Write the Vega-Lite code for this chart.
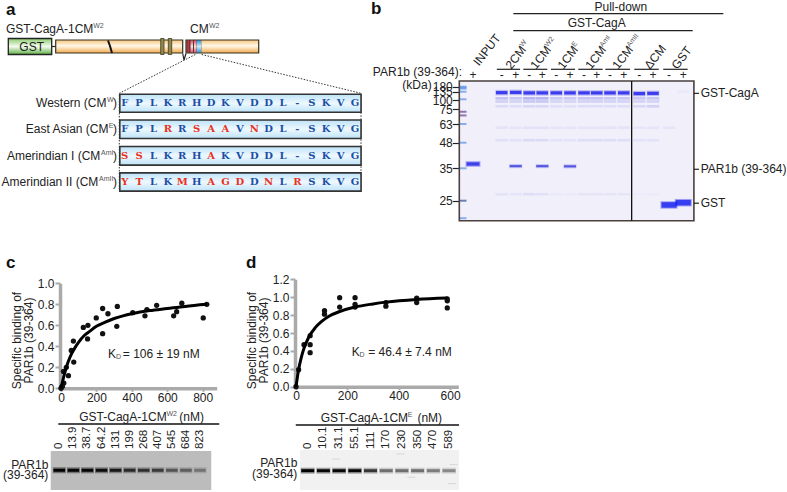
{
"$schema":"https://vega.github.io/schema/vega-lite/v6.json",
"width":787,"height":492,"padding":0,"autosize":"none","background":"white",
"config":{"font":"Liberation Sans","view":{"stroke":null},"text":{"fontSize":12,"color":"#222222"},"axis":{"labelFont":"Liberation Sans","titleFont":"Liberation Sans","labelColor":"#222222","grid":false}},
"datasets":{
"parts":[{"part":"gst","aa":0,"aaEnd":43.4,"lvl":-8,"lvlEnd":8},{"part":"orange","aa":47.4,"aaEnd":174.4,"lvl":-6.5,"lvlEnd":6.5},{"part":"orange","aa":177.7,"aaEnd":250.4,"lvl":-6.5,"lvlEnd":6.5},{"part":"stripe","aa":152.4,"aaEnd":155.7,"lvl":-8,"lvlEnd":8},{"part":"stripe","aa":160,"aaEnd":163.4,"lvl":-8,"lvlEnd":8},{"part":"cmdark","aa":178,"aaEnd":193,"lvl":-6.5,"lvlEnd":6.5},{"part":"red","aa":179,"aaEnd":181,"lvl":-6,"lvlEnd":6},{"part":"pink","aa":182.2,"aaEnd":184.7,"lvl":-6,"lvlEnd":6},{"part":"pink","aa":185.7,"aaEnd":188.2,"lvl":-6,"lvlEnd":6},{"part":"blue","aa":188.4,"aaEnd":192.7,"lvl":-6,"lvlEnd":6}],
"paths":[{"g":"link","s":1,"aa":43.4,"lvl":0},{"g":"link","s":2,"aa":47.4,"lvl":0},{"g":"break","s":1,"aa":99.7,"lvl":6},{"g":"break","s":2,"aa":101.7,"lvl":0.5},{"g":"break","s":3,"aa":103.7,"lvl":-6.5},{"g":"gap","s":1,"aa":174.4,"lvl":-7},{"g":"gap","s":2,"aa":175.7,"lvl":-13.5},{"g":"gap","s":3,"aa":177.7,"lvl":-7}],
"zoomLines":[{"g":"L","s":1,"aa":187,"lvl":-8},{"g":"L","s":2,"aa":111,"lvl":-46.8},{"g":"L","s":3,"aa":111,"lvl":-144.5},{"g":"R","s":1,"aa":193.4,"lvl":-8},{"g":"R","s":2,"aa":352.7,"lvl":-46.8},{"g":"R","s":3,"aa":352.7,"lvl":-144.5}],
"boxes":[{"row":1,"a":0.66,"b":17.42,"top":0.65,"bot":1.35},{"row":2,"a":0.66,"b":17.42,"top":1.65,"bot":2.35},{"row":3,"a":0.66,"b":17.42,"top":2.65,"bot":3.35},{"row":4,"a":0.66,"b":17.42,"top":3.65,"bot":4.35}],
"rowLabels":[{"row":1,"main":"Western (CM","mainEnd":-0.264,"sup":"W","supEnd":0.222,"closeEnd":0.465,"close":")"},{"row":2,"main":"East Asian (CM","mainEnd":-0.125,"sup":"E","supEnd":0.222,"closeEnd":0.465,"close":")"},{"row":3,"main":"Amerindian I (CM","mainEnd":-0.695,"sup":"AmI","supEnd":0.222,"closeEnd":0.465,"close":")"},{"row":4,"main":"Amerindian II (CM","mainEnd":-0.834,"sup":"AmII","supEnd":0.222,"closeEnd":0.465,"close":")"}],
"residues":[
{"row":1,"pos":1,"aa":"F","k":"same"},{"row":1,"pos":2,"aa":"P","k":"same"},{"row":1,"pos":3,"aa":"L","k":"same"},{"row":1,"pos":4,"aa":"K","k":"same"},{"row":1,"pos":5,"aa":"R","k":"same"},{"row":1,"pos":6,"aa":"H","k":"same"},{"row":1,"pos":7,"aa":"D","k":"same"},{"row":1,"pos":8,"aa":"K","k":"same"},{"row":1,"pos":9,"aa":"V","k":"same"},{"row":1,"pos":10,"aa":"D","k":"same"},{"row":1,"pos":11,"aa":"D","k":"same"},{"row":1,"pos":12,"aa":"L","k":"same"},{"row":1,"pos":13,"aa":"-","k":"same"},{"row":1,"pos":14,"aa":"S","k":"same"},{"row":1,"pos":15,"aa":"K","k":"same"},{"row":1,"pos":16,"aa":"V","k":"same"},{"row":1,"pos":17,"aa":"G","k":"same"},
{"row":2,"pos":1,"aa":"F","k":"same"},{"row":2,"pos":2,"aa":"P","k":"same"},{"row":2,"pos":3,"aa":"L","k":"same"},{"row":2,"pos":4,"aa":"R","k":"sub"},{"row":2,"pos":5,"aa":"R","k":"same"},{"row":2,"pos":6,"aa":"S","k":"sub"},{"row":2,"pos":7,"aa":"A","k":"sub"},{"row":2,"pos":8,"aa":"A","k":"sub"},{"row":2,"pos":9,"aa":"V","k":"same"},{"row":2,"pos":10,"aa":"N","k":"sub"},{"row":2,"pos":11,"aa":"D","k":"same"},{"row":2,"pos":12,"aa":"L","k":"same"},{"row":2,"pos":13,"aa":"-","k":"same"},{"row":2,"pos":14,"aa":"S","k":"same"},{"row":2,"pos":15,"aa":"K","k":"same"},{"row":2,"pos":16,"aa":"V","k":"same"},{"row":2,"pos":17,"aa":"G","k":"same"},
{"row":3,"pos":1,"aa":"S","k":"sub"},{"row":3,"pos":2,"aa":"S","k":"sub"},{"row":3,"pos":3,"aa":"L","k":"same"},{"row":3,"pos":4,"aa":"K","k":"same"},{"row":3,"pos":5,"aa":"R","k":"same"},{"row":3,"pos":6,"aa":"H","k":"same"},{"row":3,"pos":7,"aa":"A","k":"sub"},{"row":3,"pos":8,"aa":"K","k":"same"},{"row":3,"pos":9,"aa":"V","k":"same"},{"row":3,"pos":10,"aa":"D","k":"same"},{"row":3,"pos":11,"aa":"D","k":"same"},{"row":3,"pos":12,"aa":"L","k":"same"},{"row":3,"pos":13,"aa":"-","k":"same"},{"row":3,"pos":14,"aa":"S","k":"same"},{"row":3,"pos":15,"aa":"K","k":"same"},{"row":3,"pos":16,"aa":"V","k":"same"},{"row":3,"pos":17,"aa":"G","k":"same"},
{"row":4,"pos":1,"aa":"Y","k":"sub"},{"row":4,"pos":2,"aa":"T","k":"sub"},{"row":4,"pos":3,"aa":"L","k":"same"},{"row":4,"pos":4,"aa":"K","k":"same"},{"row":4,"pos":5,"aa":"M","k":"sub"},{"row":4,"pos":6,"aa":"H","k":"same"},{"row":4,"pos":7,"aa":"A","k":"sub"},{"row":4,"pos":8,"aa":"G","k":"sub"},{"row":4,"pos":9,"aa":"D","k":"sub"},{"row":4,"pos":10,"aa":"D","k":"same"},{"row":4,"pos":11,"aa":"N","k":"sub"},{"row":4,"pos":12,"aa":"L","k":"same"},{"row":4,"pos":13,"aa":"R","k":"sub"},{"row":4,"pos":14,"aa":"S","k":"same"},{"row":4,"pos":15,"aa":"K","k":"same"},{"row":4,"pos":16,"aa":"V","k":"same"},{"row":4,"pos":17,"aa":"G","k":"same"}],
"faint":[
{"lane":2,"kDa":107,"i":0.4},{"lane":2,"kDa":96,"i":0.28},{"lane":2,"kDa":83,"i":0.16},{"lane":2,"kDa":60,"i":0.1},{"lane":2,"kDa":50,"i":0.13},{"lane":2,"kDa":27,"i":0.1},
{"lane":3,"kDa":107,"i":0.35},{"lane":3,"kDa":96,"i":0.25},{"lane":3,"kDa":83,"i":0.14},{"lane":3,"kDa":60,"i":0.08},{"lane":3,"kDa":50,"i":0.11},{"lane":3,"kDa":27,"i":0.08},
{"lane":4,"kDa":107,"i":0.5},{"lane":4,"kDa":96,"i":0.35},{"lane":4,"kDa":83,"i":0.2},{"lane":4,"kDa":60,"i":0.12},{"lane":4,"kDa":50,"i":0.16},{"lane":4,"kDa":27,"i":0.14},
{"lane":5,"kDa":107,"i":0.5},{"lane":5,"kDa":96,"i":0.35},{"lane":5,"kDa":83,"i":0.2},{"lane":5,"kDa":60,"i":0.12},{"lane":5,"kDa":50,"i":0.16},{"lane":5,"kDa":27,"i":0.12},
{"lane":6,"kDa":107,"i":0.33},{"lane":6,"kDa":96,"i":0.23},{"lane":6,"kDa":83,"i":0.13},{"lane":6,"kDa":60,"i":0.08},{"lane":6,"kDa":50,"i":0.1},{"lane":6,"kDa":27,"i":0.05},
{"lane":7,"kDa":107,"i":0.33},{"lane":7,"kDa":96,"i":0.23},{"lane":7,"kDa":83,"i":0.13},{"lane":7,"kDa":60,"i":0.08},{"lane":7,"kDa":50,"i":0.1},{"lane":7,"kDa":27,"i":0.05},
{"lane":8,"kDa":107,"i":0.38},{"lane":8,"kDa":96,"i":0.26},{"lane":8,"kDa":83,"i":0.15},{"lane":8,"kDa":60,"i":0.09},{"lane":8,"kDa":50,"i":0.14},{"lane":8,"kDa":27,"i":0.09},
{"lane":9,"kDa":107,"i":0.38},{"lane":9,"kDa":96,"i":0.26},{"lane":9,"kDa":83,"i":0.15},{"lane":9,"kDa":60,"i":0.09},{"lane":9,"kDa":50,"i":0.14},{"lane":9,"kDa":27,"i":0.09},
{"lane":10,"kDa":107,"i":0.35},{"lane":10,"kDa":96,"i":0.25},{"lane":10,"kDa":83,"i":0.14},{"lane":10,"kDa":60,"i":0.1},{"lane":10,"kDa":50,"i":0.14},{"lane":10,"kDa":27,"i":0.08},
{"lane":11,"kDa":107,"i":0.35},{"lane":11,"kDa":96,"i":0.25},{"lane":11,"kDa":83,"i":0.14},{"lane":11,"kDa":60,"i":0.1},{"lane":11,"kDa":50,"i":0.14},{"lane":11,"kDa":27,"i":0.08},
{"lane":12,"kDa":107,"i":0.35},{"lane":12,"kDa":96,"i":0.25},{"lane":12,"kDa":83,"i":0.2},{"lane":12,"kDa":60,"i":0.08},{"lane":12,"kDa":50,"i":0.11},{"lane":12,"kDa":27,"i":0.03},
{"lane":13,"kDa":107,"i":0.35},{"lane":13,"kDa":96,"i":0.25},{"lane":13,"kDa":83,"i":0.25},{"lane":13,"kDa":60,"i":0.08},{"lane":13,"kDa":50,"i":0.11},{"lane":13,"kDa":27,"i":0.03},
{"lane":14,"kDa":60,"i":0.08},{"lane":15,"kDa":135,"i":0.05}],
"strong":[
{"lane":2,"kDa":131},{"lane":3,"kDa":132},{"lane":4,"kDa":130},{"lane":5,"kDa":130},{"lane":6,"kDa":130},{"lane":7,"kDa":130},{"lane":8,"kDa":130},{"lane":9,"kDa":130},{"lane":10,"kDa":130},{"lane":11,"kDa":130},{"lane":12,"kDa":127},{"lane":13,"kDa":128}],
"pulled":[{"lane":3,"kDa":36.1},{"lane":5,"kDa":36.1},{"lane":7,"kDa":36}],
"marker":[{"lane":0,"kDa":180,"k":"a"},{"lane":0,"kDa":172,"k":"a"},{"lane":0,"kDa":163,"k":"a"},{"lane":0,"kDa":135,"k":"a"},{"lane":0,"kDa":103,"k":"a"},{"lane":0,"kDa":73,"k":"b"},{"lane":0,"kDa":70,"k":"b"},{"lane":0,"kDa":63,"k":"a"},{"lane":0,"kDa":48,"k":"a"},{"lane":0,"kDa":35,"k":"a"},{"lane":0,"kDa":25,"k":"c"},{"lane":0,"kDa":18,"k":"a"}],
"gelFrame":[{"lane":-0.37,"lane2":15.61,"kDa":200,"kDa2":17}],
"gelDivide":[{"lane":11.51,"kDa":200,"kDa2":17}],
"gelSide":[{"lane":15.61,"lane2":15.9,"kDa":128},{"lane":15.61,"lane2":15.9,"kDa":34.7},{"lane":15.61,"lane2":15.9,"kDa":24}],
"gelText":[{"lane":16,"kDa":128,"t":"GST-CagA"},{"lane":16,"kDa":34.7,"t":"PAR1b (39-364)"},{"lane":16,"kDa":24,"t":"GST"}],
"headRules":[{"lane":2.83,"lane2":17.3,"tier":2},{"lane":2.83,"lane2":15.54,"tier":4},{"lane":1.83,"lane2":3.32,"tier":7},{"lane":3.56,"lane2":5.36,"tier":7},{"lane":5.62,"lane2":7.36,"tier":7},{"lane":7.59,"lane2":9.45,"tier":7},{"lane":9.65,"lane2":11.4,"tier":7},{"lane":11.68,"lane2":13.36,"tier":7},{"lane":13.64,"lane2":15.25,"tier":7}],
"headCentre":[{"lane":10.79,"tier":1,"t":"Pull-down"},{"lane":9,"tier":3,"t":"GST-CagA"},
{"lane":1,"tier":8,"t":"+"},{"lane":2,"tier":8,"t":"-"},{"lane":3,"tier":8,"t":"+"},{"lane":4,"tier":8,"t":"-"},{"lane":5,"tier":8,"t":"+"},{"lane":6,"tier":8,"t":"-"},{"lane":7,"tier":8,"t":"+"},{"lane":8,"tier":8,"t":"-"},{"lane":9,"tier":8,"t":"+"},{"lane":10,"tier":8,"t":"-"},{"lane":11,"tier":8,"t":"+"},{"lane":12,"tier":8,"t":"-"},{"lane":13,"tier":8,"t":"+"},{"lane":14,"tier":8,"t":"-"},{"lane":15,"tier":8,"t":"+"}],
"headNames":[{"lane":1.1,"tier":5.84,"t":"INPUT"},{"lane":2.45,"tier":6,"t":"2CM"},{"lane":4.28,"tier":6,"t":"1CM"},{"lane":6.27,"tier":6,"t":"1CM"},{"lane":8.31,"tier":6,"t":"1CM"},{"lane":10.36,"tier":6,"t":"1CM"},{"lane":12.56,"tier":6,"t":"ΔCM"},{"lane":14.35,"tier":6,"t":"GST"}],
"headSups":[{"lane":3.41,"tier":5,"t":"W"},{"lane":5.28,"tier":5,"t":"W2"},{"lane":7.23,"tier":5,"t":"E"},{"lane":9.34,"tier":5,"t":"AmI"},{"lane":11.29,"tier":5,"t":"AmII"}],
"cPoints":[{"nM":0,"v":0},{"nM":3,"v":0.01},{"nM":8,"v":0.02},{"nM":13.9,"v":0.16},{"nM":16,"v":0.05},{"nM":30,"v":0.2},{"nM":42,"v":0.12},{"nM":58,"v":0.36},{"nM":70,"v":0.45},{"nM":72,"v":0.25},{"nM":126,"v":0.58},{"nM":152,"v":0.6},{"nM":150,"v":0.47},{"nM":199,"v":0.67},{"nM":235,"v":0.76},{"nM":235,"v":0.52},{"nM":265,"v":0.71},{"nM":318,"v":0.78},{"nM":315,"v":0.59},{"nM":405,"v":0.72},{"nM":474,"v":0.69},{"nM":485,"v":0.75},{"nM":540,"v":0.79},{"nM":636,"v":0.69},{"nM":653,"v":0.73},{"nM":682,"v":0.81},{"nM":803,"v":0.67},{"nM":823,"v":0.8}],
"cFit":[{"nM":0,"v":0},{"nM":20,"v":0.14},{"nM":40,"v":0.25},{"nM":60,"v":0.33},{"nM":80,"v":0.39},{"nM":100,"v":0.44},{"nM":130,"v":0.5},{"nM":160,"v":0.54},{"nM":200,"v":0.59},{"nM":250,"v":0.63},{"nM":300,"v":0.665},{"nM":350,"v":0.69},{"nM":400,"v":0.71},{"nM":500,"v":0.74},{"nM":600,"v":0.76},{"nM":700,"v":0.78},{"nM":823,"v":0.8}],
"dPoints":[{"nM":0,"v":0},{"nM":10.1,"v":0.19},{"nM":31.1,"v":0.47},{"nM":55.1,"v":0.47},{"nM":55.1,"v":0.38},{"nM":55.1,"v":0.57},{"nM":111,"v":0.85},{"nM":111,"v":0.81},{"nM":170,"v":0.995},{"nM":170,"v":0.89},{"nM":230,"v":0.995},{"nM":230,"v":0.92},{"nM":230,"v":0.89},{"nM":350,"v":0.9},{"nM":350,"v":0.94},{"nM":470,"v":0.99},{"nM":470,"v":0.94},{"nM":589,"v":0.96},{"nM":589,"v":0.88},{"nM":589,"v":0.98}],
"dFit":[{"nM":0,"v":0},{"nM":10,"v":0.19},{"nM":20,"v":0.32},{"nM":30,"v":0.42},{"nM":50,"v":0.555},{"nM":75,"v":0.66},{"nM":100,"v":0.73},{"nM":130,"v":0.79},{"nM":170,"v":0.84},{"nM":230,"v":0.89},{"nM":300,"v":0.925},{"nM":350,"v":0.945},{"nM":470,"v":0.975},{"nM":589,"v":0.99}],
"cBlot":[{"lane":0,"conc":"0","i":1,"bandTier":6,"nameTier":3},{"lane":1,"conc":"13.9","i":0.95,"bandTier":6,"nameTier":3},{"lane":2,"conc":"38.7","i":0.95,"bandTier":6,"nameTier":3},{"lane":3,"conc":"64.2","i":0.9,"bandTier":6,"nameTier":3},{"lane":4,"conc":"131","i":0.8,"bandTier":6,"nameTier":3},{"lane":5,"conc":"199","i":0.7,"bandTier":6,"nameTier":3},{"lane":6,"conc":"268","i":0.65,"bandTier":6,"nameTier":3},{"lane":7,"conc":"407","i":0.6,"bandTier":6,"nameTier":3},{"lane":8,"conc":"545","i":0.45,"bandTier":6,"nameTier":3},{"lane":9,"conc":"684","i":0.4,"bandTier":6,"nameTier":3},{"lane":10,"conc":"823","i":0.3,"bandTier":6,"nameTier":3}],
"dBlot":[{"lane":0,"conc":"0","i":1,"bandTier":6,"nameTier":3},{"lane":1,"conc":"10.1","i":0.95,"bandTier":6,"nameTier":3},{"lane":2,"conc":"31.1","i":0.95,"bandTier":6,"nameTier":3},{"lane":3,"conc":"55.1","i":0.95,"bandTier":6,"nameTier":3},{"lane":4,"conc":"111","i":0.7,"bandTier":6,"nameTier":3},{"lane":5,"conc":"170","i":0.45,"bandTier":6,"nameTier":3},{"lane":6,"conc":"230","i":0.45,"bandTier":6,"nameTier":3},{"lane":7,"conc":"350","i":0.45,"bandTier":6,"nameTier":3},{"lane":8,"conc":"470","i":0.4,"bandTier":6,"nameTier":3},{"lane":9,"conc":"589","i":0.35,"bandTier":6,"nameTier":3}]
},
"resolve":{"scale":{"x":"independent","y":"independent","color":"independent","opacity":"independent"},"axis":{"x":"independent","y":"independent"}},
"layer":[
{"encoding":{"x":{"field":"aa","type":"quantitative","scale":{"domain":[0,250],"range":[8.3,258.3],"zero":false,"nice":false},"axis":null},"y":{"field":"lvl","type":"quantitative","scale":{"domain":[-10,10],"range":[56.5,36.5],"zero":false,"nice":false},"axis":null}},
"layer":[
{"data":{"name":"zoomLines"},"mark":{"type":"line","color":"#333333","strokeWidth":1,"strokeDash":[1.5,1.5]},"encoding":{"detail":{"field":"g"},"order":{"field":"s","type":"quantitative"}}},
{"data":{"name":"paths"},"mark":{"type":"line","color":"#222222","strokeWidth":1.2},"transform":[{"filter":"datum.g!='break'"}],"encoding":{"detail":{"field":"g"},"order":{"field":"s","type":"quantitative"}}},
{"data":{"name":"parts"},"transform":[{"filter":"datum.part=='gst'"}],"mark":{"type":"rect","stroke":"#222222","strokeWidth":1.3,"fill":{"gradient":"linear","x1":0,"y1":0,"x2":0,"y2":1,"stops":[{"offset":0,"color":"#8ccb6c"},{"offset":0.5,"color":"#f4fbee"},{"offset":1,"color":"#5fb044"}]}},"encoding":{"x2":{"field":"aaEnd"},"y2":{"field":"lvlEnd"}}},
{"data":{"name":"parts"},"transform":[{"filter":"datum.part=='orange'"}],"mark":{"type":"rect","stroke":"#333322","strokeWidth":1.2,"fill":{"gradient":"linear","x1":0,"y1":0,"x2":0,"y2":1,"stops":[{"offset":0,"color":"#f8c47c"},{"offset":0.45,"color":"#fff8e8"},{"offset":1,"color":"#f2a94e"}]}},"encoding":{"x2":{"field":"aaEnd"},"y2":{"field":"lvlEnd"}}},
{"data":{"name":"parts"},"transform":[{"filter":"datum.part=='stripe'"}],"mark":{"type":"rect","fill":"#93884a","stroke":"#3a3a22","strokeWidth":0.8},"encoding":{"x2":{"field":"aaEnd"},"y2":{"field":"lvlEnd"}}},
{"data":{"name":"parts"},"transform":[{"filter":"datum.part=='cmdark'"}],"mark":{"type":"rect","fill":"#4a3a3a"},"encoding":{"x2":{"field":"aaEnd"},"y2":{"field":"lvlEnd"}}},
{"data":{"name":"parts"},"transform":[{"filter":"datum.part=='red'"}],"mark":{"type":"rect","fill":"#c8323c"},"encoding":{"x2":{"field":"aaEnd"},"y2":{"field":"lvlEnd"}}},
{"data":{"name":"parts"},"transform":[{"filter":"datum.part=='pink'"}],"mark":{"type":"rect","fill":{"gradient":"linear","x1":0,"y1":0,"x2":0,"y2":1,"stops":[{"offset":0,"color":"#e8505c"},{"offset":0.5,"color":"#ffe0e0"},{"offset":1,"color":"#e8505c"}]}},"encoding":{"x2":{"field":"aaEnd"},"y2":{"field":"lvlEnd"}}},
{"data":{"name":"parts"},"transform":[{"filter":"datum.part=='blue'"}],"mark":{"type":"rect","fill":{"gradient":"linear","x1":0,"y1":0,"x2":0,"y2":1,"stops":[{"offset":0,"color":"#2a9ae0"},{"offset":0.5,"color":"#c8ecfb"},{"offset":1,"color":"#2a9ae0"}]}},"encoding":{"x2":{"field":"aaEnd"},"y2":{"field":"lvlEnd"}}},
{"data":{"name":"paths"},"mark":{"type":"line","color":"#111111","strokeWidth":2},"transform":[{"filter":"datum.g=='break'"}],"encoding":{"order":{"field":"s","type":"quantitative"}}},
{"data":{"values":[{"aa":23.4,"lvl":0,"t":"GST"}]},"mark":{"type":"text","align":"center","baseline":"middle"},"encoding":{"text":{"field":"t"}}},
{"data":{"values":[{"aa":-2.3,"lvl":17.5,"t":"GST-CagA-1CM"},{"aa":181.7,"lvl":17.5,"t":"CM"}]},"mark":{"type":"text","align":"left","baseline":"middle"},"encoding":{"text":{"field":"t"}}},
{"data":{"values":[{"aa":84.9,"lvl":17.5,"t":"W2"},{"aa":200.6,"lvl":17.5,"t":"W2"}]},"mark":{"type":"text","align":"left","baseline":"middle","fontSize":7,"dy":-3,"color":"#555555"},"encoding":{"text":{"field":"t"}}},
{"data":{"values":[{"aa":-2.3,"lvl":36.5,"t":"a"}]},"mark":{"type":"text","align":"left","baseline":"middle","fontSize":17,"fontWeight":"bold","color":"#111111"},"encoding":{"text":{"field":"t"}}}
]},
{"encoding":{"x":{"field":"a","type":"quantitative","scale":{"domain":[1,17],"range":[124.7,355],"zero":false,"nice":false},"axis":null},"y":{"field":"row","type":"quantitative","scale":{"domain":[1,2,3,4],"range":[103.3,129,156,182],"zero":false,"nice":false},"axis":null}},
"layer":[
{"data":{"name":"boxes"},"mark":{"type":"rect","stroke":"#333333","strokeWidth":1.6,"fill":{"gradient":"linear","x1":0,"y1":0,"x2":0,"y2":1,"stops":[{"offset":0,"color":"#bde3f8"},{"offset":0.5,"color":"#eef8fe"},{"offset":1,"color":"#bde3f8"}]}},"encoding":{"x2":{"field":"b"},"y":{"field":"top","type":"quantitative"},"y2":{"field":"bot"}}},
{"data":{"name":"residues"},"mark":{"type":"text","font":"DejaVu Serif","fontWeight":"bold","fontSize":10,"align":"center","baseline":"middle"},"encoding":{"x":{"field":"pos","type":"quantitative"},"text":{"field":"aa"},"color":{"field":"k","type":"nominal","scale":{"domain":["same","sub"],"range":["#1b4fa5","#e8321e"]},"legend":null}}},
{"data":{"name":"rowLabels"},"mark":{"type":"text","align":"right","baseline":"middle"},"encoding":{"x":{"field":"mainEnd","type":"quantitative"},"text":{"field":"main"}}},
{"data":{"name":"rowLabels"},"mark":{"type":"text","align":"right","baseline":"middle","fontSize":7,"dy":-3,"color":"#555555"},"encoding":{"x":{"field":"supEnd","type":"quantitative"},"text":{"field":"sup"}}},
{"data":{"name":"rowLabels"},"mark":{"type":"text","align":"right","baseline":"middle"},"encoding":{"x":{"field":"closeEnd","type":"quantitative"},"text":{"field":"close"}}}
]},
{"encoding":{"x":{"field":"lane","type":"quantitative","scale":{"domain":[0,1,2,3,4,5,6,7,8,9,10,11,12,13,14,15,16],"range":[463,473,501.7,515.7,529.3,542.3,556.3,570,584,596.7,610,623.7,639.3,653,669,683.3,700.7],"zero":false,"nice":false},"axis":null},"y":{"field":"kDa","type":"quantitative","scale":{"domain":[200,180,135,100,75,63,48,35,25,17],"range":[81,86.7,91.7,100,109.3,124,142.7,168.3,200.7,220.7],"zero":false,"nice":false},"axis":{"orient":"left","offset":-459.3,"values":[180,135,100,75,63,48,35,25],"domain":false,"tickSize":7,"tickColor":"#222222","tickWidth":1.2,"labelFontSize":12,"labelPadding":0,"labelOverlap":false,"labelBound":false,"title":null}}},
"layer":[
{"data":{"name":"gelFrame"},"mark":{"type":"rect","fill":"#f0effa"},"encoding":{"x2":{"field":"lane2"},"y2":{"field":"kDa2"}}},
{"data":{"name":"faint"},"mark":{"type":"tick","orient":"horizontal","size":12.5,"thickness":2.6,"color":"#4a4ae0"},"encoding":{"opacity":{"field":"i","type":"quantitative","scale":{"domain":[0,1],"range":[0,0.7]},"legend":null}}},
{"data":{"name":"marker"},"mark":{"type":"tick","orient":"horizontal","size":7,"thickness":2},"encoding":{"color":{"field":"k","type":"nominal","scale":{"domain":["a","b","c"],"range":["#5b93ea","#6b3f8f","#2c4f9c"]},"legend":null}}},
{"data":{"values":[{"lane":1,"kDa":37.2}]},"mark":{"type":"tick","orient":"horizontal","size":15,"thickness":6,"color":"#3a3ae8","opacity":0.35}},
{"data":{"values":[{"lane":1,"kDa":37.2}]},"mark":{"type":"tick","orient":"horizontal","size":13,"thickness":3.4,"color":"#1010e4"}},
{"data":{"name":"strong"},"mark":{"type":"tick","orient":"horizontal","size":12.5,"thickness":5.5,"color":"#3a3ae8","opacity":0.3}},
{"data":{"name":"strong"},"mark":{"type":"tick","orient":"horizontal","size":11.5,"thickness":3.2,"color":"#0808ec"}},
{"data":{"name":"pulled"},"mark":{"type":"tick","orient":"horizontal","size":13,"thickness":4,"color":"#4a4ae8","opacity":0.3}},
{"data":{"name":"pulled"},"mark":{"type":"tick","orient":"horizontal","size":12,"thickness":2,"color":"#2626dc"}},
{"data":{"values":[{"lane":14,"kDa":23.3},{"lane":15,"kDa":24.2}]},"mark":{"type":"tick","orient":"horizontal","size":17,"thickness":7.5,"color":"#2a30ee","opacity":0.4}},
{"data":{"values":[{"lane":14,"kDa":23.3},{"lane":15,"kDa":24.2}]},"mark":{"type":"tick","orient":"horizontal","size":15,"thickness":5.5,"color":"#0a14f0"}},
{"data":{"name":"gelFrame"},"mark":{"type":"rect","fill":"transparent","stroke":"#4a3f3c","strokeWidth":1.6},"encoding":{"x2":{"field":"lane2"},"y2":{"field":"kDa2"}}},
{"data":{"name":"gelDivide"},"mark":{"type":"rule","color":"#111111","strokeWidth":1.3},"encoding":{"y2":{"field":"kDa2"}}},
{"data":{"name":"gelSide"},"mark":{"type":"rule","color":"#222222","strokeWidth":1.2},"encoding":{"x2":{"field":"lane2"}}},
{"data":{"name":"gelText"},"mark":{"type":"text","align":"left","baseline":"middle"},"encoding":{"text":{"field":"t"}}},
{"data":{"values":[{"lane":-3.13,"kDa":186,"t":"(kDa)"}]},"mark":{"type":"text","align":"right","baseline":"middle"},"encoding":{"text":{"field":"t"}}}
]},
{"encoding":{"x":{"field":"lane","type":"quantitative","scale":{"domain":[0,1,2,3,4,5,6,7,8,9,10,11,12,13,14,15,16],"range":[463,473,501.7,515.7,529.3,542.3,556.3,570,584,596.7,610,623.7,639.3,653,669,683.3,700.7],"zero":false,"nice":false},"axis":null},"y":{"field":"tier","type":"quantitative","scale":{"domain":[1,2,3,4,5,6,7,8],"range":[6.7,13.7,23.3,30.7,46,67.5,69.3,75.3],"zero":false,"nice":false},"axis":null}},
"layer":[
{"data":{"name":"headRules"},"mark":{"type":"rule","color":"#222222","strokeWidth":1.2},"encoding":{"x2":{"field":"lane2"}}},
{"data":{"name":"headCentre"},"mark":{"type":"text","align":"center","baseline":"middle"},"encoding":{"text":{"field":"t"}}},
{"data":{"name":"headNames"},"mark":{"type":"text","align":"left","baseline":"middle","angle":-52},"encoding":{"text":{"field":"t"}}},
{"data":{"name":"headSups"},"mark":{"type":"text","align":"left","baseline":"middle","angle":-52,"fontSize":7,"color":"#555555"},"encoding":{"text":{"field":"t"}}},
{"data":{"values":[{"lane":-0.1,"tier":7.45,"t":"PAR1b (39-364):"}]},"mark":{"type":"text","align":"right","baseline":"middle"},"encoding":{"text":{"field":"t"}}},
{"data":{"values":[{"lane":-9.2,"tier":1.33,"t":"b"}]},"mark":{"type":"text","align":"left","baseline":"middle","fontSize":17,"fontWeight":"bold","color":"#111111"},"encoding":{"text":{"field":"t"}}}
]},
{"encoding":{"x":{"field":"nM","type":"quantitative","scale":{"domain":[0,879],"range":[61,216.7],"zero":false,"nice":false},"axis":{"orient":"bottom","offset":-103.7,"values":[0,200,400,600,800],"domainColor":"#aaaaaa","domainWidth":3.5,"tickColor":"#aaaaaa","tickWidth":2,"tickSize":3,"labelFontSize":12,"labelPadding":1,"labelOverlap":false,"labelBound":false,"labelFlush":false,"title":null}},"y":{"field":"v","type":"quantitative","scale":{"domain":[0,1],"range":[388.3,283.3],"zero":false,"nice":false},"axis":{"orient":"left","offset":-60,"values":[0,0.2,0.4,0.6,0.8,1],"format":".1f","domainColor":"#aaaaaa","domainWidth":3.5,"tickColor":"#aaaaaa","tickWidth":2,"tickSize":5,"labelFontSize":12,"labelPadding":1,"labelOverlap":false,"labelBound":false,"labelFlush":false,"title":["Specific binding of","PAR1b (39-364)"],"titleFontSize":12,"titleFontWeight":"normal","titleColor":"#222222","titleLineHeight":12.5,"titleX":-37,"titleY":340,"titleAngle":-90}}},
"layer":[
{"data":{"name":"cPoints"},"mark":{"type":"circle","size":28,"color":"#111111","opacity":1}},
{"data":{"name":"cFit"},"mark":{"type":"line","color":"#000000","strokeWidth":3,"interpolate":"monotone"}},
{"data":{"values":[{"nM":265,"v":0.327,"t":"K"},{"nM":349,"v":0.327,"t":"= 106 ± 19 nM"}]},"mark":{"type":"text","align":"left","baseline":"middle"},"encoding":{"text":{"field":"t"}}},
{"data":{"values":[{"nM":310,"v":0.327,"t":"D"}]},"mark":{"type":"text","align":"left","baseline":"middle","fontSize":7,"dy":3,"color":"#555555"},"encoding":{"text":{"field":"t"}}},
{"data":{"values":[{"nM":-310,"v":1.19,"t":"c"}]},"mark":{"type":"text","align":"left","baseline":"middle","fontSize":17,"fontWeight":"bold","color":"#111111"},"encoding":{"text":{"field":"t"}}}
]},
{"encoding":{"x":{"field":"nM","type":"quantitative","scale":{"domain":[0,632],"range":[296,458.3],"zero":false,"nice":false},"axis":{"orient":"bottom","offset":-105.3,"values":[0,200,400,600],"domainColor":"#aaaaaa","domainWidth":3.5,"tickColor":"#aaaaaa","tickWidth":2,"tickSize":3,"labelFontSize":12,"labelPadding":1,"labelOverlap":false,"labelBound":false,"labelFlush":false,"title":null}},"y":{"field":"v","type":"quantitative","scale":{"domain":[0,1.2],"range":[386.7,279.3],"zero":false,"nice":false},"axis":{"orient":"left","offset":-295,"values":[0,0.2,0.4,0.6,0.8,1,1.2],"format":".1f","domainColor":"#aaaaaa","domainWidth":3.5,"tickColor":"#aaaaaa","tickWidth":2,"tickSize":5,"labelFontSize":12,"labelPadding":1,"labelOverlap":false,"labelBound":false,"labelFlush":false,"title":["Specific binding of","PAR1b (39-364)"],"titleFontSize":12,"titleFontWeight":"normal","titleColor":"#222222","titleLineHeight":12.5,"titleX":-37,"titleY":340,"titleAngle":-90}}},
"layer":[
{"data":{"name":"dPoints"},"mark":{"type":"circle","size":28,"color":"#111111","opacity":1}},
{"data":{"name":"dFit"},"mark":{"type":"line","color":"#000000","strokeWidth":3,"interpolate":"monotone"}},
{"data":{"values":[{"nM":217,"v":0.388,"t":"K"},{"nM":281,"v":0.388,"t":"= 46.4 ± 7.4 nM"}]},"mark":{"type":"text","align":"left","baseline":"middle"},"encoding":{"text":{"field":"t"}}},
{"data":{"values":[{"nM":247,"v":0.388,"t":"D"}]},"mark":{"type":"text","align":"left","baseline":"middle","fontSize":7,"dy":3,"color":"#555555"},"encoding":{"text":{"field":"t"}}},
{"data":{"values":[{"nM":-195,"v":1.382,"t":"d"}]},"mark":{"type":"text","align":"left","baseline":"middle","fontSize":17,"fontWeight":"bold","color":"#111111"},"encoding":{"text":{"field":"t"}}}
]},
{"resolve":{"scale":{"opacity":"independent"}},"encoding":{"x":{"field":"lane","type":"quantitative","scale":{"domain":[0,10],"range":[59.3,200],"zero":false,"nice":false},"axis":null},"y":{"field":"tier","type":"quantitative","scale":{"domain":[1,2,3,4,5,6,7,8],"range":[417,424,449,451,465,470.3,475,490],"zero":false,"nice":false},"axis":null}},
"layer":[
{"data":{"values":[{"lane":-0.61,"lane2":10.8,"tier":4,"tier2":8}]},"mark":{"type":"rect","fill":"#bcbcbc"},"encoding":{"x2":{"field":"lane2"},"y2":{"field":"tier2"}}},
{"data":{"name":"cBlot"},"mark":{"type":"tick","orient":"horizontal","size":13,"thickness":6,"color":"#000000"},"encoding":{"y":{"field":"bandTier","type":"quantitative"},"opacity":{"field":"i","type":"quantitative","scale":{"domain":[0,1],"range":[0,0.4]},"legend":null}}},
{"data":{"name":"cBlot"},"mark":{"type":"tick","orient":"horizontal","size":11.5,"thickness":3,"color":"#000000"},"encoding":{"y":{"field":"bandTier","type":"quantitative"},"opacity":{"field":"i","type":"quantitative","scale":{"domain":[0,1],"range":[0,1]},"legend":null}}},
{"data":{"values":[{"lane":-0.07,"lane2":11.37,"tier":2}]},"mark":{"type":"rule","color":"#111111","strokeWidth":1.3},"encoding":{"x2":{"field":"lane2"}}},
{"data":{"name":"cBlot"},"mark":{"type":"text","align":"left","baseline":"middle","angle":-90,"fontSize":11.5},"encoding":{"y":{"field":"nameTier","type":"quantitative"},"text":{"field":"conc"}}},
{"data":{"values":[{"lane":1.42,"tier":1,"t":"GST-CagA-1CM"},{"lane":8.53,"tier":1,"t":"(nM)"}]},"mark":{"type":"text","align":"left","baseline":"middle"},"encoding":{"text":{"field":"t"}}},
{"data":{"values":[{"lane":7.62,"tier":1,"t":"W2"}]},"mark":{"type":"text","align":"left","baseline":"middle","fontSize":7,"dy":-3,"color":"#555555"},"encoding":{"text":{"field":"t"}}},
{"data":{"values":[{"lane":-0.78,"tier":5,"t":"PAR1b"},{"lane":-0.78,"tier":7,"t":"(39-364)"}]},"mark":{"type":"text","align":"right","baseline":"middle"},"encoding":{"text":{"field":"t"}}}
]},
{"resolve":{"scale":{"opacity":"independent"}},"encoding":{"x":{"field":"lane","type":"quantitative","scale":{"domain":[0,9],"range":[307.7,449],"zero":false,"nice":false},"axis":null},"y":{"field":"tier","type":"quantitative","scale":{"domain":[1,2,3,4,5,6,7,8],"range":[418,425,449,450,463,470.7,474,490],"zero":false,"nice":false},"axis":null}},
"layer":[
{"data":{"values":[{"lane":-0.49,"lane2":9.64,"tier":4,"tier2":8}]},"mark":{"type":"rect","fill":"#f1f1f1"},"encoding":{"x2":{"field":"lane2"},"y2":{"field":"tier2"}}},
{"data":{"values":[{"lane":9.3,"tier":5.2},{"lane":9.2,"tier":7.6},{"lane":6.6,"tier":7.2},{"lane":1.8,"tier":4.7},{"lane":5.9,"tier":4.3}]},"mark":{"type":"tick","orient":"horizontal","size":8,"thickness":1,"color":"#cccccc"}},
{"data":{"name":"dBlot"},"mark":{"type":"tick","orient":"horizontal","size":14,"thickness":6,"color":"#000000"},"encoding":{"y":{"field":"bandTier","type":"quantitative"},"opacity":{"field":"i","type":"quantitative","scale":{"domain":[0,1],"range":[0,0.35]},"legend":null}}},
{"data":{"name":"dBlot"},"mark":{"type":"tick","orient":"horizontal","size":13,"thickness":3,"color":"#000000"},"encoding":{"y":{"field":"bandTier","type":"quantitative"},"opacity":{"field":"i","type":"quantitative","scale":{"domain":[0,1],"range":[0,1]},"legend":null}}},
{"data":{"values":[{"lane":-0.76,"lane2":9.64,"tier":2}]},"mark":{"type":"rule","color":"#111111","strokeWidth":1.3},"encoding":{"x2":{"field":"lane2"}}},
{"data":{"name":"dBlot"},"mark":{"type":"text","align":"left","baseline":"middle","angle":-90,"fontSize":11.5},"encoding":{"y":{"field":"nameTier","type":"quantitative"},"text":{"field":"conc"}}},
{"data":{"values":[{"lane":0.83,"tier":1,"t":"GST-CagA-1CM"},{"lane":6.99,"tier":1,"t":"(nM)"}]},"mark":{"type":"text","align":"left","baseline":"middle"},"encoding":{"text":{"field":"t"}}},
{"data":{"values":[{"lane":6.38,"tier":1,"t":"E"}]},"mark":{"type":"text","align":"left","baseline":"middle","fontSize":7,"dy":-3,"color":"#555555"},"encoding":{"text":{"field":"t"}}},
{"data":{"values":[{"lane":-0.66,"tier":5,"t":"PAR1b"},{"lane":-0.66,"tier":7,"t":"(39-364)"}]},"mark":{"type":"text","align":"right","baseline":"middle"},"encoding":{"text":{"field":"t"}}}
]}
]
}
